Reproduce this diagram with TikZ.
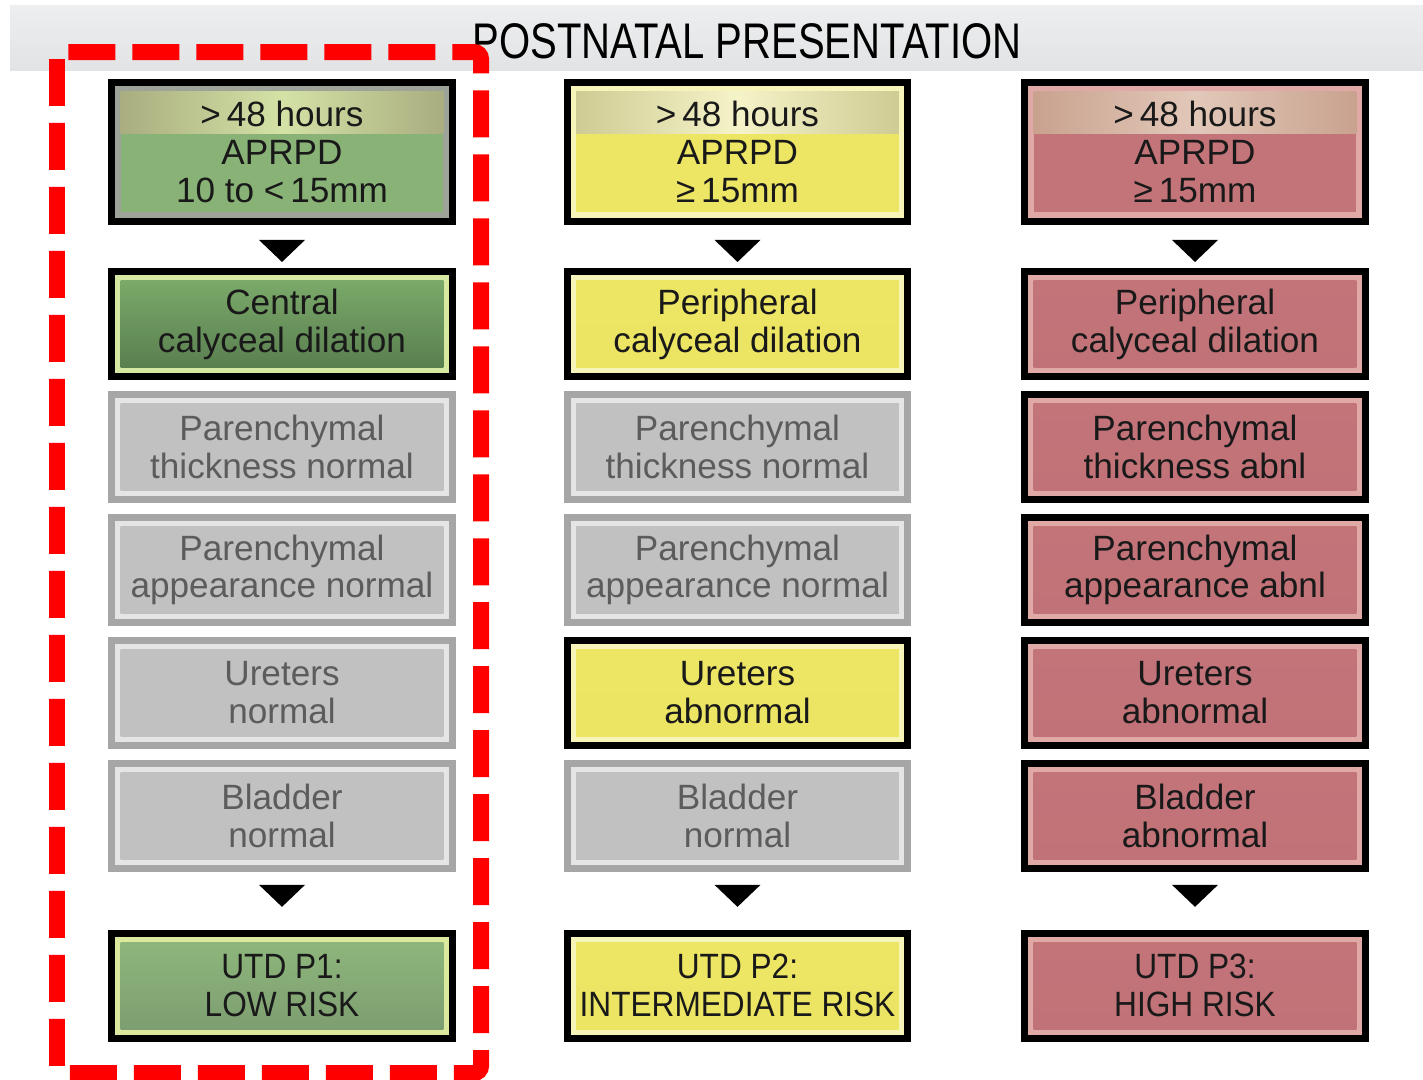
\documentclass[tikz,border=0pt]{standalone}
\usepackage{fontspec}
\setmainfont{Liberation Sans}
\newfontfamily\narrowfont[FakeStretch=0.9]{Liberation Sans}
\newfontfamily\titlefont[FakeStretch=0.8]{Liberation Sans}
\usetikzlibrary{positioning}

\definecolor{hdrgray}{HTML}{E1E3E5}
\definecolor{G1band}{HTML}{9EA39A}
\definecolor{G1top}{HTML}{88B276}
\definecolor{G1hi}{HTML}{D4E2A6}
\definecolor{G1edge}{HTML}{A9AD7F}
\definecolor{G2band}{HTML}{D7E9A0}
\definecolor{G2top}{HTML}{7EAE6C}
\definecolor{G2bot}{HTML}{567A4D}
\definecolor{G3band}{HTML}{DBE99E}
\definecolor{G3top}{HTML}{8FB87C}
\definecolor{G3bot}{HTML}{7C9C70}
\definecolor{Yband}{HTML}{F6F4B8}
\definecolor{Ytop}{HTML}{EDE665}
\definecolor{Ybot}{HTML}{ECE463}
\definecolor{Yhi}{HTML}{F5F3C8}
\definecolor{Yedge}{HTML}{CFCB94}
\definecolor{Rband}{HTML}{E0A9A6}
\definecolor{Rtop}{HTML}{C27479}
\definecolor{Rbot}{HTML}{C07278}
\definecolor{Rhi}{HTML}{E2C8B9}
\definecolor{Redge}{HTML}{C9A28F}
\definecolor{Nband}{HTML}{E5E5E5}
\definecolor{Ntop}{HTML}{C1C1C1}
\definecolor{Nbot}{HTML}{C1C1C1}
\definecolor{Nline}{HTML}{A6A6A6}
\definecolor{Ntext}{HTML}{5C5C5C}

\begin{document}
\begin{tikzpicture}[x=0.02cm,y=-0.02cm,node distance=0.22cm]
\tikzstyle{box}=[draw=black,line width=0.14cm,fill=#1band,text=black!90,
    minimum width=6.82cm,minimum height=2.1cm,inner sep=0pt,align=center,
    font=\fontsize{20}{21.6}\selectfont,
    path picture={\shade[top color=#1top,bottom color=#1bot]
        ([shift={(0.18cm,-0.18cm)}]path picture bounding box.north west) rectangle
        ([shift={(-0.18cm,0.18cm)}]path picture bounding box.south east);}]
\tikzstyle{hdrbox}=[box=#1,minimum height=2.78cm,
    path picture={\fill[#1top]
        ([shift={(0.18cm,-0.18cm)}]path picture bounding box.north west) rectangle
        ([shift={(-0.18cm,0.18cm)}]path picture bounding box.south east);
      \shade[left color=#1edge,right color=#1edge,middle color=#1hi]
        ([shift={(0.18cm,-0.18cm)}]path picture bounding box.north west) rectangle
        ([shift={(-0.18cm,-1.02cm)}]path picture bounding box.north east);}]
\tikzstyle{graybox}=[box=N,draw=Nline,text=Ntext]
\useasboundingbox (0,0) rectangle (1423,1079);

% title band
\shade[top color=hdrgray!60,bottom color=hdrgray] (10,5) rectangle (1423,70);
\node[font=\titlefont\fontsize{28.5}{30}\selectfont] (title) at (747,41) {POSTNATAL PRESENTATION};

% low risk column
\node[hdrbox=G1] (g1) at (282,152) {>\,48 hours\\APRPD\\10 to <\,15mm};
\node[box=G2,below=0.86cm of g1] (g2) {Central\\calyceal dilation};
\node[graybox,below=of g2] (g3) {Parenchymal\\thickness normal};
\node[graybox,below=of g3] (g4) {Parenchymal\\appearance normal};
\node[graybox,below=of g4] (g5) {Ureters\\normal};
\node[graybox,below=of g5] (g6) {Bladder\\normal};
\node[box=G3,below=1.16cm of g6] (g7) {\narrowfont UTD P1:\\\narrowfont LOW RISK};

% intermediate risk column
\node[hdrbox=Y] (y1) at (737.5,152) {>\,48 hours\\APRPD\\≥\,15mm};
\node[box=Y,below=0.86cm of y1] (y2) {Peripheral\\calyceal dilation};
\node[graybox,below=of y2] (y3) {Parenchymal\\thickness normal};
\node[graybox,below=of y3] (y4) {Parenchymal\\appearance normal};
\node[box=Y,below=of y4] (y5) {Ureters\\abnormal};
\node[graybox,below=of y5] (y6) {Bladder\\normal};
\node[box=Y,below=1.16cm of y6] (y7) {\narrowfont UTD P2:\\\narrowfont INTERMEDIATE RISK};

% high risk column
\node[hdrbox=R] (r1) at (1195,152) {>\,48 hours\\APRPD\\≥\,15mm};
\node[box=R,below=0.86cm of r1] (r2) {Peripheral\\calyceal dilation};
\node[box=R,below=of r2] (r3) {Parenchymal\\thickness abnl};
\node[box=R,below=of r3] (r4) {Parenchymal\\appearance abnl};
\node[box=R,below=of r4] (r5) {Ureters\\abnormal};
\node[box=R,below=of r5] (r6) {Bladder\\abnormal};
\node[box=R,below=1.16cm of r6] (r7) {\narrowfont UTD P3:\\\narrowfont HIGH RISK};

% arrow heads
\foreach \col in {g,y,r}{
  \fill ([yshift=-0.3cm]\col1.south) -- ++(0.46cm,0cm) -- ++(-0.46cm,-0.44cm) -- ++(-0.46cm,0.44cm) -- cycle;
  \fill ([yshift=-0.26cm]\col6.south) -- ++(0.46cm,0cm) -- ++(-0.46cm,-0.44cm) -- ++(-0.46cm,0.44cm) -- cycle;
}

% highlight
\draw[red,line width=0.32cm,dash pattern=on 0.94cm off 0.34cm,rounded corners=0.14cm]
    (57,52) rectangle (481,1073);
\end{tikzpicture}
\end{document}
